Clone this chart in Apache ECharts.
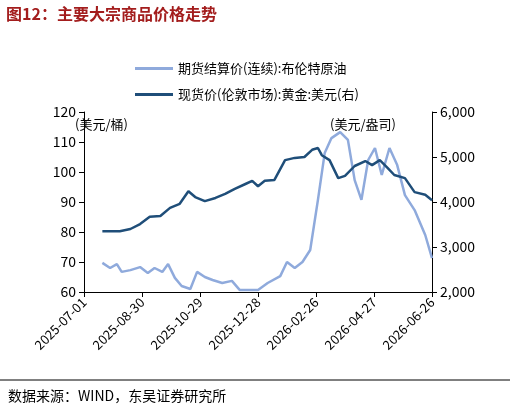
<!DOCTYPE html>
<html><head><meta charset="utf-8">
<script src="https://cdn.jsdelivr.net/npm/echarts@6/dist/echarts.min.js"></script>
<style>html,body{margin:0;padding:0;background:#fff}#c{width:510px;height:413px}</style>
</head><body><div id="c"></div>
<script>
const xTickStart = '2025-07-01';
const oilDates = ['2025-07-20','2025-07-28','2025-08-04','2025-08-09','2025-08-18','2025-08-28','2025-09-05','2025-09-12','2025-09-20','2025-09-26','2025-10-03','2025-10-10','2025-10-19','2025-10-26','2025-11-03','2025-11-11','2025-11-21','2025-12-01','2025-12-09','2025-12-20','2025-12-28','2026-01-07','2026-01-20','2026-01-27','2026-02-04','2026-02-12','2026-02-20','2026-02-28','2026-03-07','2026-03-14','2026-03-23','2026-03-31','2026-04-07','2026-04-14','2026-04-21','2026-04-28','2026-05-05','2026-05-13','2026-05-21','2026-05-29','2026-06-08','2026-06-19','2026-06-26'];
const oilValues = [69.7,68,69.3,66.7,67.3,68.3,66.3,68,66.7,69.3,64.7,62,61,66.7,65,64,63,63.7,60.7,60.7,60.7,63,65.3,70,68,70,74,90.7,106.3,111.3,113.3,110.7,97.3,90.7,104,108,99,108,102.3,92.3,87.3,79,71.3];
const goldDates = ['2025-07-20','2025-08-07','2025-08-18','2025-08-28','2025-09-07','2025-09-18','2025-09-28','2025-10-08','2025-10-17','2025-10-24','2025-11-03','2025-11-14','2025-11-24','2025-12-04','2025-12-15','2025-12-22','2025-12-28','2026-01-04','2026-01-14','2026-01-25','2026-02-04','2026-02-14','2026-02-22','2026-02-28','2026-03-04','2026-03-12','2026-03-21','2026-03-28','2026-04-07','2026-04-18','2026-04-25','2026-05-03','2026-05-11','2026-05-18','2026-05-29','2026-06-08','2026-06-19','2026-06-26'];
const goldValues = [3350,3350,3400,3510,3670,3690,3870,3960,4240,4110,4020,4090,4180,4290,4400,4470,4350,4470,4490,4930,4980,5000,5160,5200,5040,4930,4530,4580,4800,4910,4820,4930,4760,4600,4530,4220,4160,4040];
const oilName = '期货结算价(连续):布伦特原油';
const goldName = '现货价(伦敦市场):黄金:美元(右)';
const DAY = 86400000;
const t0 = Date.parse(xTickStart);
const fmt = v => new Date(v).toISOString().slice(0,10);
const font = '"Noto Sans CJK SC"';
const chart = echarts.init(document.getElementById('c'));
chart.setOption({
  animation:false,
  textStyle:{fontFamily:font},
  legend:{orient:'vertical',left:130,top:57,itemGap:13,itemWidth:38,itemHeight:3,
    textStyle:{fontSize:13,color:'#000',fontFamily:font},
    data:[{name:oilName,icon:'rect'},{name:goldName,icon:'rect'}]},
  graphic:[
    {type:'text',left:6,top:6,style:{text:'图12：主要大宗商品价格走势',fill:'#a31d1d',font:'bold 16px '+font}},
    {type:'text',left:8,top:389,style:{text:'数据来源：WIND，东吴证券研究所',fill:'#000',font:'14px '+font}},
    {type:'text',left:75,top:118,style:{text:'(美元/桶)',fill:'#000',font:'13px '+font}},
    {type:'text',left:330,top:118,style:{text:'(美元/盎司)',fill:'#000',font:'13px '+font}},
    {type:'line',shape:{x1:0,y1:380,x2:510,y2:380},style:{stroke:'#000',lineWidth:1}}
  ],
  grid:{left:84,right:78,top:112,bottom:121},
  xAxis:{type:'value',min:t0,max:t0+360*DAY,interval:60*DAY,
    axisLine:{lineStyle:{color:'#000'}},axisTick:{show:true,lineStyle:{color:'#000'}},splitLine:{show:false},
    axisLabel:{rotate:45,fontSize:13,color:'#000',formatter:fmt,showMinLabel:true,showMaxLabel:true}},
  yAxis:[
    {type:'value',min:60,max:120,interval:10,splitLine:{show:false},
     axisLine:{show:true,lineStyle:{color:'#000'}},axisTick:{show:true},axisLabel:{fontSize:14,color:'#000'}},
    {type:'value',min:2000,max:6000,interval:1000,splitLine:{show:false},
     axisLine:{show:true,lineStyle:{color:'#000'}},axisTick:{show:true},
     axisLabel:{fontSize:14,color:'#000',formatter:v=>v.toLocaleString('en-US')}}
  ],
  series:[
    {name:oilName,type:'line',yAxisIndex:0,showSymbol:false,lineStyle:{color:'#8faadc',width:2.5},itemStyle:{color:'#8faadc'},
     data:oilDates.map((d,i)=>[Date.parse(d),oilValues[i]])},
    {name:goldName,type:'line',yAxisIndex:1,showSymbol:false,lineStyle:{color:'#1f4e79',width:2.5},itemStyle:{color:'#1f4e79'},
     data:goldDates.map((d,i)=>[Date.parse(d),goldValues[i]])}
  ]
});
</script></body></html>
